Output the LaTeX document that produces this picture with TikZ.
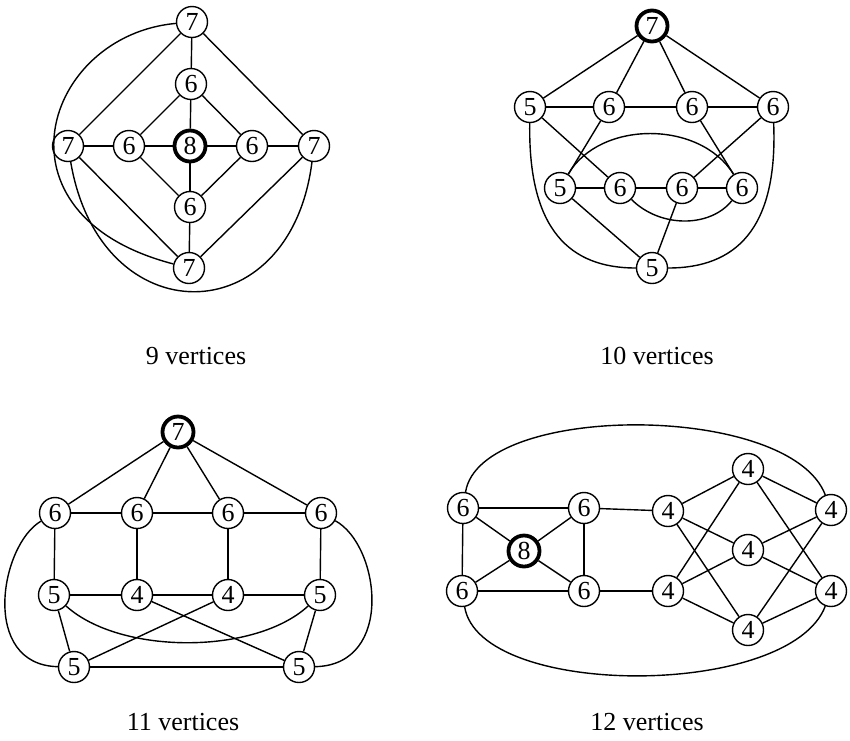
\documentclass[tikz,border=0pt]{standalone}
\usepackage{fontspec}
\setmainfont{Liberation Serif}
\begin{document}
\begin{tikzpicture}[x=0.5pt,y=-0.5pt,line width=0.7pt,
	v/.style={circle,draw,line width=0.7pt,inner sep=0pt,minimum size=15.5pt,font=\fontsize{13}{13}\selectfont},
	vb/.style={v,line width=1.9pt},
	lbl/.style={font=\fontsize{13}{15}\selectfont}]
	\useasboundingbox (0,0) rectangle (850,740);
	% 9 vertices
	\node[v] (a1) at (192,22) {7};
	\node[v] (a2) at (191,84) {6};
	\node[v] (a3) at (68,146) {7};
	\node[v] (a4) at (129,146) {6};
	\node[vb] (a5) at (190,146) {8};
	\node[v] (a6) at (252,146) {6};
	\node[v] (a7) at (314,146) {7};
	\node[v] (a8) at (190,207) {6};
	\node[v] (a9) at (189,268) {7};
	\path
	(a1) edge (a2) (a2) edge (a5) (a5) edge (a8) (a8) edge (a9)
	(a3) edge (a4) (a4) edge (a5) (a5) edge (a6) (a6) edge (a7)
	(a2) edge (a4) (a2) edge (a6) (a8) edge (a4) (a8) edge (a6)
	(a1) edge (a3) (a1) edge (a7) (a9) edge (a3) (a9) edge (a7);
	\draw (a1) .. controls (45,35) and (-15,215) .. (a9);
	\draw (a3) .. controls (100,335) and (290,335) .. (a7);
	\node[lbl] (t1) at (196,356) {9 vertices};
	% 10 vertices
	\node[vb] (b1) at (652,26) {7};
	\node[v] (b2) at (530,107) {5};
	\node[v] (b3) at (609,107) {6};
	\node[v] (b4) at (692,107) {6};
	\node[v] (b5) at (773,107) {6};
	\node[v] (b6) at (560,188) {5};
	\node[v] (b7) at (620,188) {6};
	\node[v] (b8) at (682,188) {6};
	\node[v] (b9) at (742,188) {6};
	\node[v] (b10) at (652,268) {5};
	\path
	(b1) edge (b2) (b1) edge (b3) (b1) edge (b4) (b1) edge (b5)
	(b2) edge (b3) (b3) edge (b4) (b4) edge (b5)
	(b2) edge (b7) (b3) edge (b6) (b4) edge (b9) (b5) edge (b8)
	(b6) edge (b7) (b7) edge (b8) (b8) edge (b9)
	(b6) edge (b10) (b8) edge (b10);
	\draw (b6) .. controls (600,120) and (700,120) .. (b9);
	\draw (b7) .. controls (660,228) and (710,228) .. (b9);
	\draw (b2) .. controls (528,230) and (570,268) .. (b10);
	\draw (b5) .. controls (778,230) and (735,268) .. (b10);
	\node[lbl] (t2) at (657,356) {10 vertices};
	% 11 vertices
	\node[vb] (c1) at (178,432) {7};
	\node[v] (c2) at (55,513) {6};
	\node[v] (c3) at (137,513) {6};
	\node[v] (c4) at (228,513) {6};
	\node[v] (c5) at (321,513) {6};
	\node[v] (c6) at (54,595) {5};
	\node[v] (c7) at (137,595) {4};
	\node[v] (c8) at (228,595) {4};
	\node[v] (c9) at (320,595) {5};
	\node[v] (c10) at (74,667) {5};
	\node[v] (c11) at (299,667) {5};
	\path
	(c1) edge (c2) (c1) edge (c3) (c1) edge (c4) (c1) edge (c5)
	(c2) edge (c3) (c3) edge (c4) (c4) edge (c5)
	(c2) edge (c6) (c3) edge (c7) (c4) edge (c8) (c5) edge (c9)
	(c6) edge (c7) (c7) edge (c8) (c8) edge (c9)
	(c6) edge (c10) (c9) edge (c11) (c10) edge (c11)
	(c10) edge (c8) (c7) edge (c11);
	\draw (c6) .. controls (120,655) and (255,655) .. (c9);
	\draw (c2) .. controls (0,545) and (-20,665) .. (c10);
	\draw (c5) .. controls (380,545) and (395,665) .. (c11);
	\node[lbl] (t3) at (183,722) {11 vertices};
	% 12 vertices
	\node[v] (d1) at (463,508) {6};
	\node[v] (d2) at (584,508) {6};
	\node[vb] (d3) at (524,551) {8};
	\node[v] (d4) at (462,591) {6};
	\node[v] (d5) at (584,591) {6};
	\node[v] (d6) at (668,511) {4};
	\node[v] (d7) at (668,591) {4};
	\node[v] (d8) at (748,469) {4};
	\node[v] (d9) at (748,550) {4};
	\node[v] (d10) at (748,630) {4};
	\node[v] (d11) at (831,510) {4};
	\node[v] (d12) at (831,591) {4};
	\path
	(d1) edge (d2) (d1) edge (d4) (d4) edge (d5) (d2) edge (d5)
	(d1) edge (d3) (d2) edge (d3) (d4) edge (d3) (d5) edge (d3)
	(d2) edge (d6) (d5) edge (d7)
	(d6) edge (d8) (d6) edge (d9) (d6) edge (d10)
	(d7) edge (d8) (d7) edge (d9) (d7) edge (d10)
	(d8) edge (d11) (d8) edge (d12)
	(d9) edge (d11) (d9) edge (d12)
	(d10) edge (d11) (d10) edge (d12);
	\draw (d1) .. controls (480,402) and (790,402) .. (d11);
	\draw (d4) .. controls (480,699) and (790,699) .. (d12);
	\node[lbl] (t4) at (647,722) {12 vertices};
\end{tikzpicture}
\end{document}
